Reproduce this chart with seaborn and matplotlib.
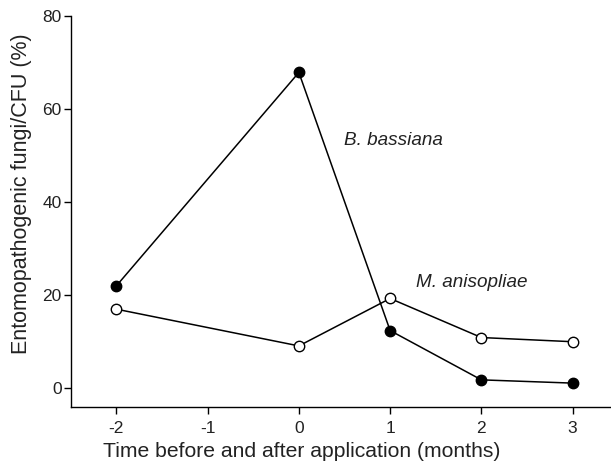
import matplotlib
matplotlib.use("Agg")
import matplotlib.pyplot as plt
import seaborn as sns
import pandas as pd

months = [-2, 0, 1, 2, 3]
b_bassiana = [21.9, 67.8, 12.3, 1.7, 1.0]
m_anisopliae = [16.9, 9.0, 19.2, 10.8, 9.9]
x_ticks = [-2, -1, 0, 1, 2, 3]
y_ticks = [0, 20, 40, 60, 80]

sns.set_style("ticks")
plt.rcParams['font.family'] = ['Liberation Sans', 'DejaVu Sans']

fig = plt.figure(figsize=(6.11, 4.70), dpi=100)
ax = fig.add_axes([0.1157, 0.1334, 0.8843, 0.8332])

df_b = pd.DataFrame({"x": months, "y": b_bassiana})
df_m = pd.DataFrame({"x": months, "y": m_anisopliae})

sns.lineplot(data=df_b, x="x", y="y", ax=ax, color="black", linewidth=1.1,
             marker="o", markersize=7.5, markerfacecolor="black",
             markeredgecolor="black", markeredgewidth=1.0)
sns.lineplot(data=df_m, x="x", y="y", ax=ax, color="black", linewidth=1.1,
             marker="o", markersize=7.5, markerfacecolor="white",
             markeredgecolor="black", markeredgewidth=1.0)

ax.set_xlim(-2.5, 3.42)
ax.set_ylim(-4.2, 80)
ax.set_xticks(x_ticks)
ax.set_yticks(y_ticks)
ax.set_xticklabels([str(t) for t in x_ticks], fontsize=12.5, color="#222222")
ax.set_yticklabels([str(t) for t in y_ticks], fontsize=12.5, color="#222222")
ax.tick_params(axis="both", direction="out", length=5, width=1.0, color="black")
ax.tick_params(axis="x", pad=5)
ax.tick_params(axis="y", pad=1.5)
for s in ["top", "right"]:
    ax.spines[s].set_visible(False)
for s in ["left", "bottom"]:
    ax.spines[s].set_linewidth(1.0)
    ax.spines[s].set_color("black")

ax.set_xlabel("Time before and after application (months)", fontsize=15.2, color="#222222")
ax.xaxis.set_label_coords(0.427, -0.088)
ax.set_ylabel("Entomopathogenic fungi/CFU (%)", fontsize=15.5, color="#222222")
ax.yaxis.set_label_coords(-0.072, 0.545)

ax.text(0.49, 52.2, "B. bassiana", fontsize=13.6, style="italic", color="#222222", va="baseline")
ax.text(1.28, 21.7, "M. anisopliae", fontsize=13.6, style="italic", color="#222222", va="baseline")

fig.savefig("out.png", dpi=100)
